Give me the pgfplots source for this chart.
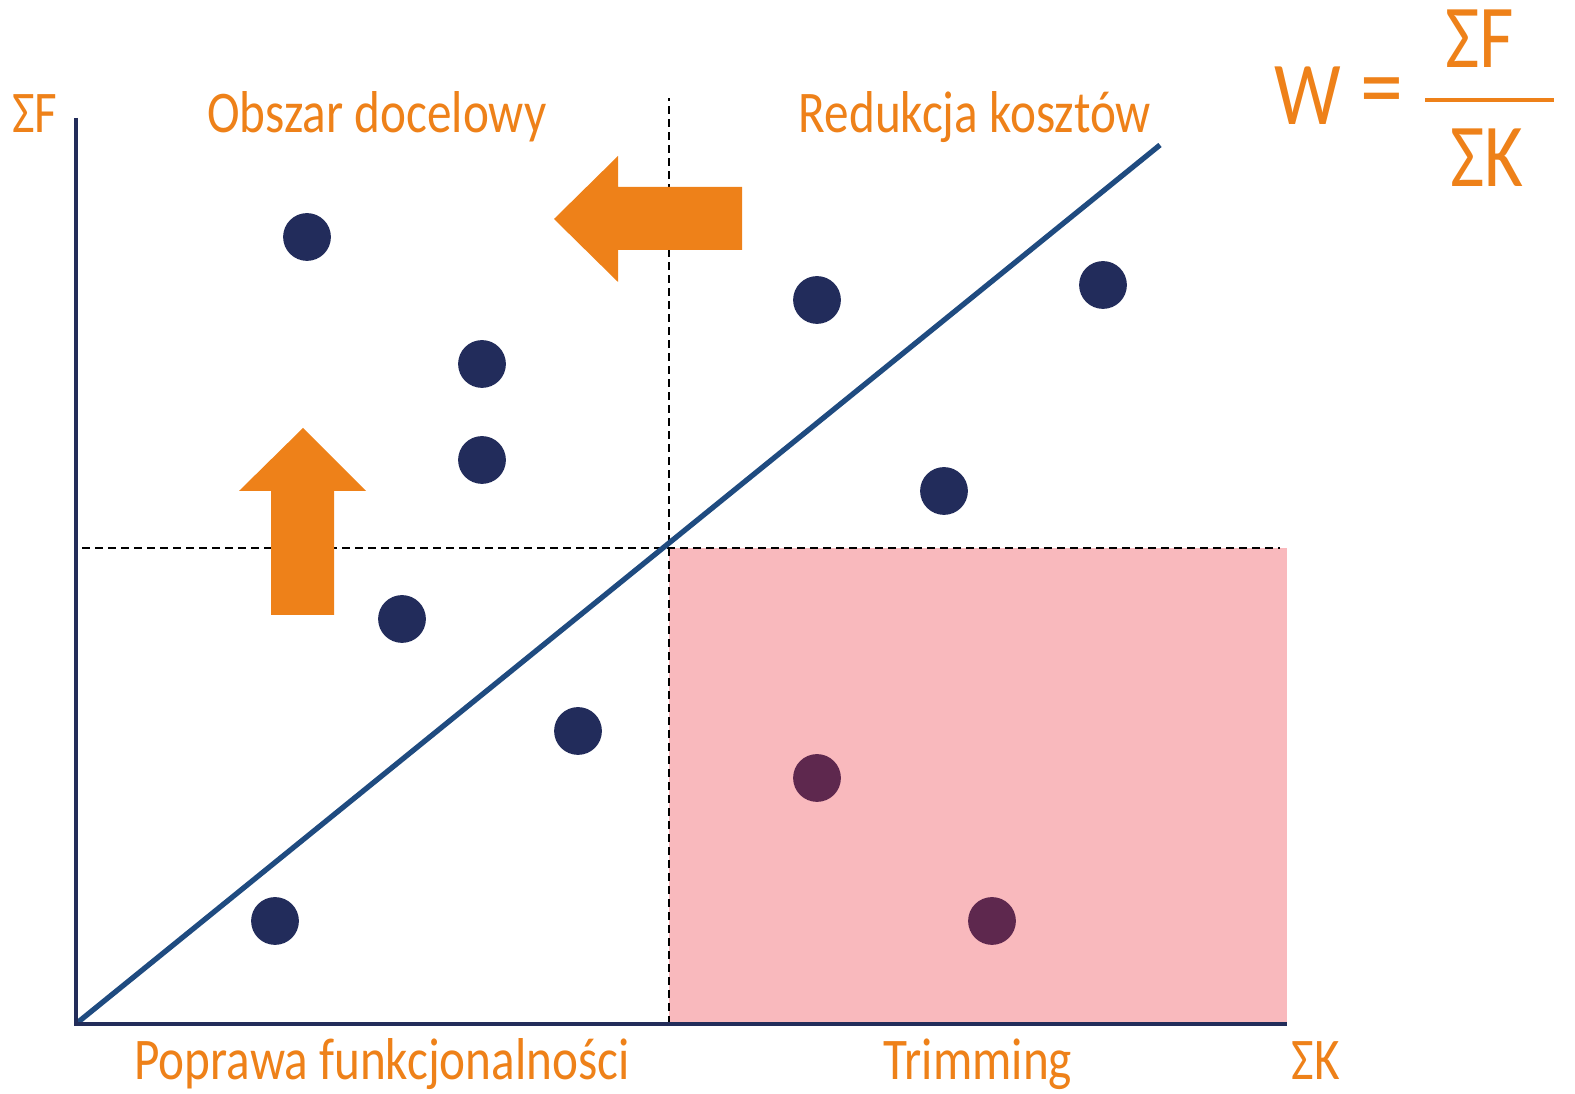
\documentclass[border=0pt]{standalone}
\usepackage{pgfplots}
\pgfplotsset{compat=1.18}
\usepackage{fontspec}
\setmainfont{Carlito}
\usepackage{graphicx}
\definecolor{navy}{HTML}{232D5A}
\definecolor{dotnavy}{HTML}{222C5B}
\definecolor{plum}{HTML}{5E284E}
\definecolor{lineblue}{HTML}{1F4B80}
\definecolor{orng}{HTML}{EE8119}
\definecolor{pinkbg}{HTML}{F9B9BD}
\newcommand{\lab}[1]{\scalebox{1}[1.2]{#1}}
\begin{document}
\begin{tikzpicture}
\begin{axis}[
  scale only axis, width=15.75cm, height=10.94cm,
  xmin=-76, xmax=1499, ymin=-70, ymax=1024,
  hide axis, clip=false,
]
% frame of the picture (invisible)
\path[use as bounding box] (axis cs:-76,-70) rectangle (axis cs:1499,1024);
% pink region
\addplot[draw=none, fill=pinkbg] coordinates {(593,0) (1211,0) (1211,476) (593,476)} -- cycle;
% dashed guides
\addplot[black, line width=0.75pt, dash pattern=on 2.3pt off 1.4pt] coordinates {(593,0) (593,926)};
\addplot[black, line width=0.75pt, dash pattern=on 2.3pt off 1.4pt] coordinates {(6,476) (1204,476)};
% diagonal
\addplot[lineblue, line width=1.5pt] coordinates {(1,1) (1084,879)};
% axes
\addplot[navy, line width=1.4pt] coordinates {(0,906) (0,0) (1211,0)};
% arrows
\addplot[draw=none, fill=orng] coordinates {(478,805) (542,868) (542,837) (666,837) (666,774) (542,774) (542,742)} -- cycle;
\addplot[draw=none, fill=orng] coordinates {(227,596) (290,533) (258,533) (258,409) (195,409) (195,533) (163,533)} -- cycle;
% points
\addplot[only marks, mark=*, mark size=6.6pt, dotnavy] coordinates {
 (231,787) (406,660) (406,564) (326,405) (502,293) (199,103)
 (741,724) (1027,739) (868,533)};
\addplot[only marks, mark=*, mark size=6.6pt, plum] coordinates {(741,246) (916,103)};
% fraction bar
\addplot[orng, line width=1.4pt] coordinates {(1349,924) (1478,924)};
% labels
\begin{scope}[every node/.style={text=orng, inner sep=0pt, font=\fontsize{14}{14}\selectfont}]
\node[anchor=base] at (axis cs:-41,891) {\lab{ΣF}};
\node[anchor=base] at (axis cs:301,891) {\lab{Obszar docelowy}};
\node[anchor=base] at (axis cs:899,891) {\lab{Redukcja kosztów}};
\node[anchor=base] at (axis cs:306,-56) {\lab{Poprawa funkcjonalności}};
\node[anchor=base] at (axis cs:902,-56) {\lab{Trimming}};
\node[anchor=base] at (axis cs:1240,-56) {\lab{ΣK}};
\end{scope}
\begin{scope}[every node/.style={text=orng, inner sep=0pt, font=\fontsize{21.3}{21.3}\selectfont}]
\node[anchor=base] at (axis cs:1232,899) {\lab{W}};
\node[anchor=center] at (axis cs:1306,925) {\scalebox{1.15}[1.3]{=}};
\node[anchor=base] at (axis cs:1404,956) {\lab{ΣF}};
\node[anchor=base] at (axis cs:1411,837) {\lab{ΣK}};
\end{scope}
\end{axis}
\end{tikzpicture}
\end{document}
